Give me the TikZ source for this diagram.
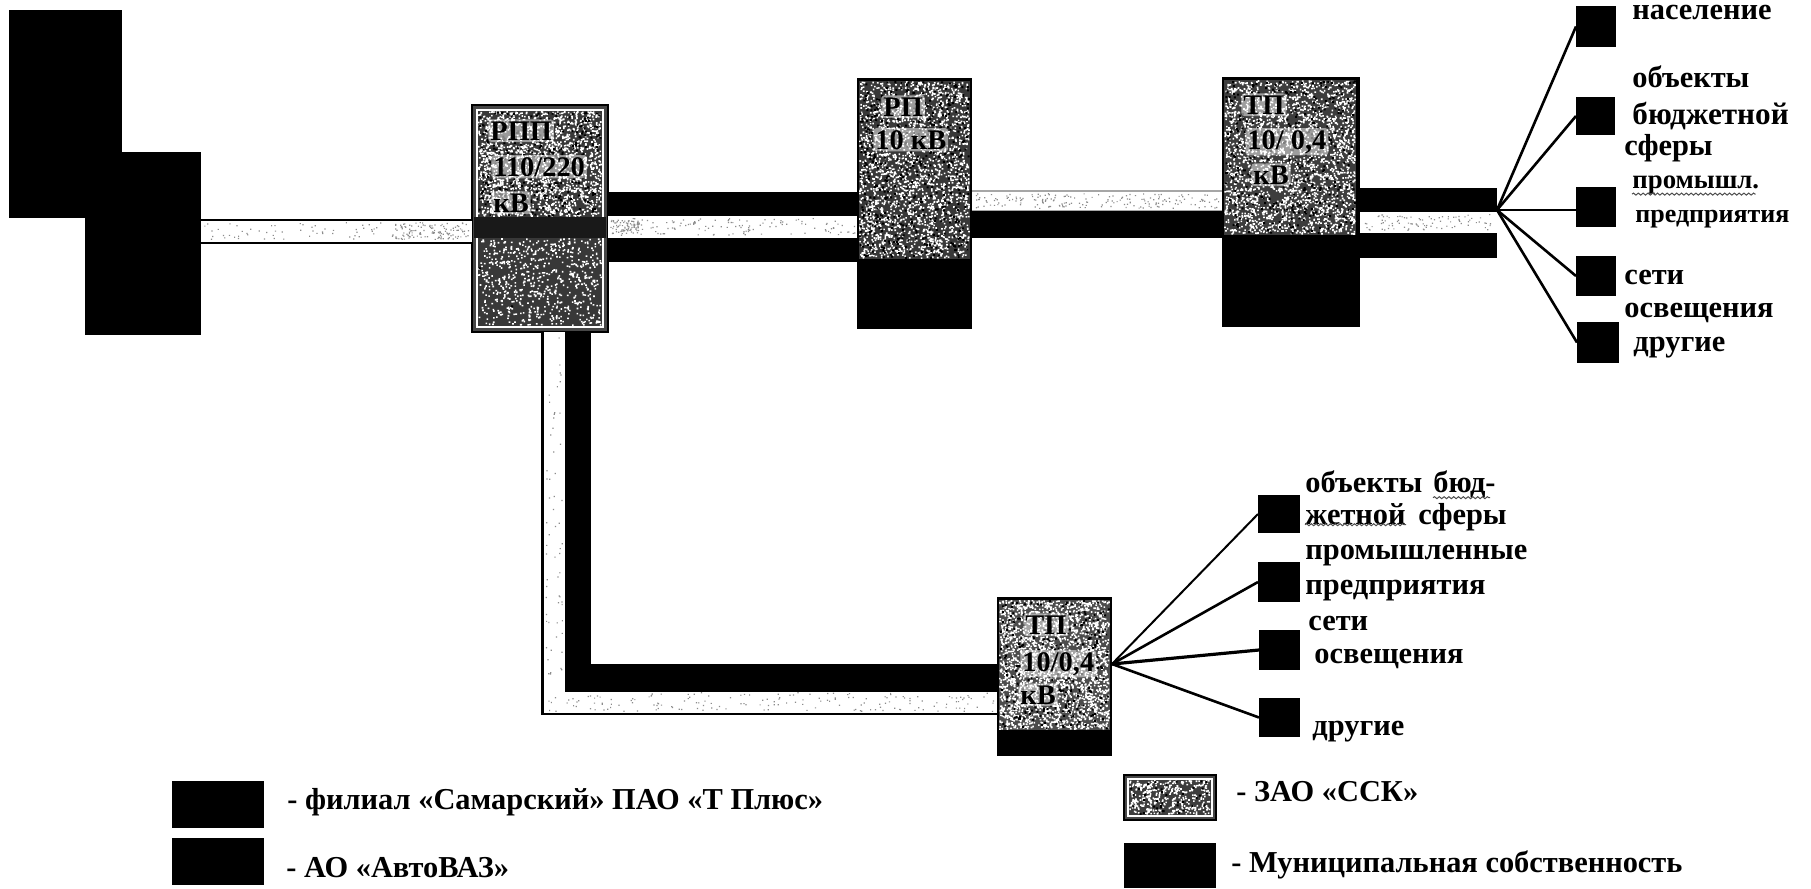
\documentclass[tikz,border=0pt]{standalone}
\usepackage{fontspec}
\setmainfont{Liberation Serif}
\usetikzlibrary{decorations.pathmorphing}
\newcommand{\rbox}[6]{%
  \pgfmathsetmacro\rw{(#5-#3)*0.5}\pgfmathsetmacro\rh{(#6-#4)*0.5}%
  \node[#2,minimum width=\rw pt,minimum height=\rh pt,anchor=north west] (#1) at (#3,#4) {};}
\newcommand{\noise}[7]{%
  \fill[#5] \foreach \k in {1,...,#6}{ ({#1+rnd*(#3-#1-#7)},{#2+rnd*(#4-#2-#7)}) rectangle ++(#7,#7) };}
\newcommand{\hband}[5]{%
  \pgfmathsetmacro\bw{(#4-#3)*0.5}\pgfmathsetmacro\by{(#3+#4)/2}%
  \draw[#5,line width=\bw pt] (#1.east |- 0,\by) -- (#2.west |- 0,\by);}
\newcommand{\texture}[6]{% x0 y0 x1 y1 whites blacks
  \noise{#1}{#2}{#3}{#4}{white}{#5}{1.6}\noise{#1}{#2}{#3}{#4}{black}{#6}{2}}
\newcommand{\lightspecks}[5]{\noise{#1}{#2}{#3}{#4}{black!45}{#5}{1.2}}
\tikzset{
  solidbox/.style={fill=black,inner sep=0pt,outer sep=0pt},
  framebox/.style={fill=black!72,draw=black,line width=1.2pt,inner sep=0pt,outer sep=0pt},
  lead/.style={line width=1.3pt,black},
  lbl/.style={anchor=base west,inner sep=0pt,font=\fontsize{15.2}{16}\selectfont\bfseries},
  boxlbl/.style={anchor=base west,inner sep=1pt,fill=white,fill opacity=0.5,text opacity=1,rounded corners=1.5pt,font=\fontsize{14.2}{15}\selectfont\bfseries},
  legend/.style={anchor=base west,inner sep=0pt,font=\fontsize{15.2}{16}\selectfont\bfseries},
  wavy/.style={black!70,line width=0.5pt,decorate,decoration={snake,amplitude=0.5pt,segment length=2.4pt}},
}
\begin{document}
\begin{tikzpicture}[x=0.5pt,y=-0.5pt]
\useasboundingbox (0,0) rectangle (1811,889);
\pgfmathsetseed{4242}
% source blocks
\rbox{srcA}{solidbox}{9}{10}{122}{218}
\rbox{srcB}{solidbox}{85}{152}{201}{335}
% main substations
\rbox{rpp}{framebox}{472}{105}{608}{332}
\fill[white] (476,109) rectangle (604,328);
\fill[black!78] (478,111) rectangle (602,326);
\texture{478}{111}{602}{217}{2000}{300}
\fill[black!90] (474,217) rectangle (606,238);
\texture{478}{238}{602}{326}{700}{0}
\rbox{rp}{solidbox}{857}{78}{972}{329}
\fill[black!78] (859,81) rectangle (970,259);
\texture{859}{81}{970}{259}{2400}{500}
\rbox{tpa}{solidbox}{1222}{77}{1360}{327}
\fill[black!76] (1224,80) rectangle (1356,235);
\texture{1224}{80}{1356}{235}{2600}{400}
\rbox{tpb}{solidbox}{997}{597}{1112}{756}
\fill[black!70] (999,600) rectangle (1110,730);
\texture{999}{600}{1110}{730}{2500}{300}
% bands
\draw[line width=12.5pt,black] (srcB.east |- 0,231) -- (rpp.west |- 0,231);
\draw[line width=10.5pt,white] (srcB.east |- 0,231) -- (rpp.west |- 0,231);
\lightspecks{203}{222}{470}{240}{90}
\lightspecks{395}{222}{470}{240}{90}
\hband{rpp}{rp}{192}{216}{black}
\hband{rpp}{rp}{216}{238}{white}
\lightspecks{610}{218}{856}{236}{130}
\lightspecks{612}{220}{640}{234}{70}
\hband{rpp}{rp}{238}{262}{black}
\hband{rp}{tpa}{190}{212}{black!35}
\draw[line width=9pt,white] (rp.east |- 0,200.5) -- (tpa.west |- 0,200.5);
\lightspecks{974}{193}{1221}{209}{180}
\hband{rp}{tpa}{211}{238}{black}
\coordinate (hubA) at (1497,210);
\coordinate (bandAend) at (1497,223);
\hband{tpa}{bandAend}{188}{212}{black}
\hband{tpa}{bandAend}{212}{233}{white}
\lightspecks{1362}{214}{1495}{231}{90}
\hband{tpa}{bandAend}{233}{258}{black}
% branch to the lower substation
\draw[line width=13pt,black] (554,0 |- rpp.south) |- (tpb.west |- 0,702);
\draw[line width=10.5pt,white] (554,0 |- rpp.south) |- (tpb.west |- 0,702);
\lightspecks{545}{334}{563}{688}{60}
\lightspecks{545}{692}{996}{712}{170}
\draw[line width=13pt,black] (577.5,0 |- rpp.south) |- (tpb.west |- 0,676.5);
% consumer squares, upper group
\rbox{sqA}{solidbox}{1576}{6}{1616}{47}
\rbox{sqB}{solidbox}{1576}{97}{1615}{135}
\rbox{sqC}{solidbox}{1576}{187}{1616}{227}
\rbox{sqD}{solidbox}{1576}{256}{1616}{296}
\rbox{sqE}{solidbox}{1577}{322}{1619}{363}
\draw[lead] (hubA) -- (sqA.west);
\draw[lead] (hubA) -- (sqB.west);
\draw[lead] (hubA) -- (sqC.west |- hubA);
\draw[lead] (hubA) -- (sqD.west);
\draw[lead] (hubA) -- (sqE.west);
% consumer squares, lower group
\coordinate (hubB) at (1112,664);
\rbox{sqF}{solidbox}{1258}{495}{1300}{533}
\rbox{sqG}{solidbox}{1258}{562}{1300}{602}
\rbox{sqH}{solidbox}{1259}{630}{1300}{670}
\rbox{sqI}{solidbox}{1259}{698}{1300}{737}
\draw[lead,line width=1pt] (hubB) -- (sqF.west);
\draw[lead] (hubB) -- (sqG.west);
\draw[lead,line width=1.6pt] (hubB) -- (sqH.west);
\draw[lead] (hubB) -- (sqI.west);
% box labels
\node[boxlbl] (t1) at (488,140) {РПП};
\node[boxlbl] (t2) at (491,176) {110/220};
\node[boxlbl] (t3) at (491,212) {кВ};
\node[boxlbl] (t4) at (881,116) {РП};
\node[boxlbl] (t5) at (873,149) {10 кВ};
\node[boxlbl] (t6) at (1241,114) {ТП};
\node[boxlbl] (t7) at (1245,149) {10/ 0,4};
\node[boxlbl] (t8) at (1251,184) {кВ};
\node[boxlbl] (t9) at (1023,634) {ТП};
\node[boxlbl] (t10) at (1020,671) {10/0,4};
\node[boxlbl] (t11) at (1018,704) {кВ};
% upper labels
\node[lbl] (l1) at (1632,19) {население};
\node[lbl] (l2) at (1632,87) {объекты};
\node[lbl,font=\fontsize{15.6}{16}\selectfont\bfseries] (l3) at (1632,124) {бюджетной};
\node[lbl] (l4) at (1624,155) {сферы};
\node[lbl,font=\fontsize{13.4}{14}\selectfont\bfseries] (l5) at (1632,188) {промышл.};
\node[lbl,font=\fontsize{13}{14}\selectfont\bfseries] (l6) at (1635,222) {предприятия};
\node[lbl] (l7) at (1624,284) {сети};
\node[lbl] (l8) at (1624,317) {освещения};
\node[lbl] (l9) at (1633,351) {другие};
\draw[wavy] (l5.south west) -- ([xshift=-2pt]l5.south east);
% lower labels
\node[lbl] (m1) at (1305,492) {объекты};
\node[lbl] (m2) at (1433,492) {бюд-};
\node[lbl] (m3) at (1305,524) {жетной};
\node[lbl] (m4) at (1418,524) {сферы};
\node[lbl] (m5) at (1305,559) {промышленные};
\node[lbl] (m6) at (1305,594) {предприятия};
\node[lbl] (m7) at (1308,630) {сети};
\node[lbl] (m8) at (1314,663) {освещения};
\node[lbl] (m9) at (1312,735) {другие};
\draw[wavy] (m2.south west) -- ([xshift=-3pt]m2.south east);
\draw[wavy] (m3.south west) -- (m3.south east);
% legend
\rbox{keyA}{solidbox}{172}{781}{264}{828}
\rbox{keyB}{solidbox}{172}{838}{264}{885}
\rbox{keyC}{framebox}{1124}{775}{1216}{820}
\fill[white] (1127,778) rectangle (1213,817);
\fill[black!76] (1129,780) rectangle (1211,815);
\texture{1129}{780}{1211}{815}{400}{40}
\rbox{keyD}{solidbox}{1124}{843}{1216}{888}
\node[legend] (k1) at (287,809) {- филиал «Самарский» ПАО «Т Плюс»};
\node[legend] (k2) at (286,877) {- АО «АвтоВАЗ»};
\node[legend] (k3) at (1236,801) {- ЗАО «ССК»};
\node[legend] (k4) at (1231,872) {- Муниципальная собственность};
\end{tikzpicture}
\end{document}
